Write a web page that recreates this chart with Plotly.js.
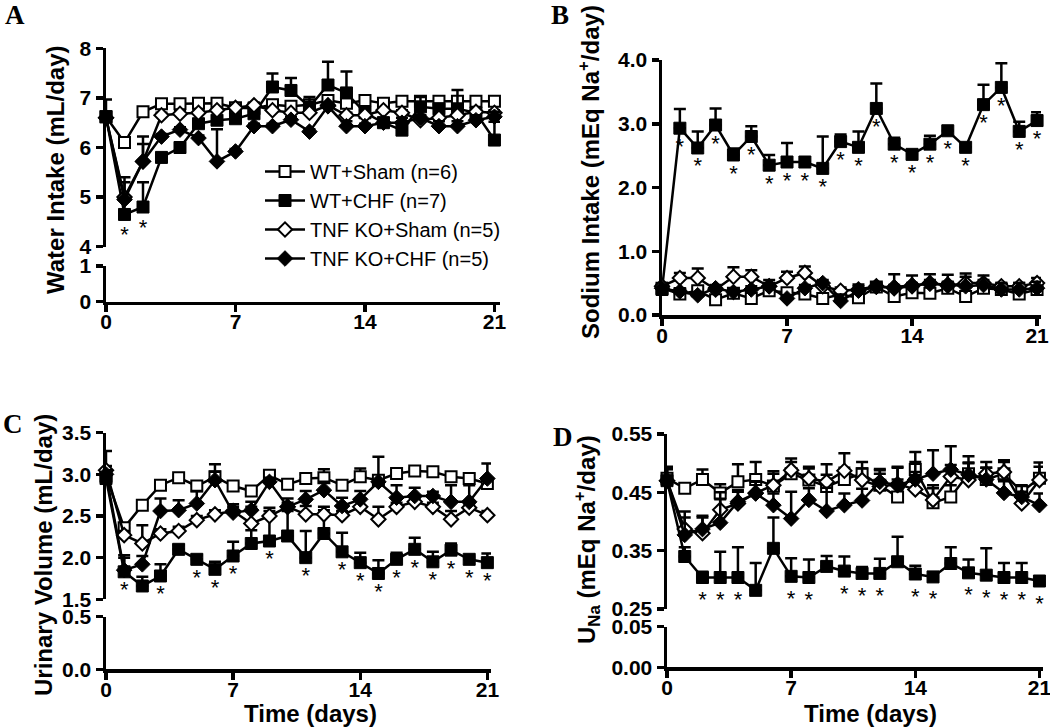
<!DOCTYPE html>
<html><head><meta charset="utf-8">
<script src="https://cdn.plot.ly/plotly-3.0.1.min.js"></script>
<style>html,body{margin:0;padding:0;background:#fff}#chart{width:1050px;height:728px}</style>
</head><body><div id="chart"></div>
<script>
// ---------- DATA ----------
const days = [0,1,2,3,4,5,6,7,8,9,10,11,12,13,14,15,16,17,18,19,20,21];
const xTicks = [0,7,14,21];
const seriesNames = ['WT+Sham (n=6)','WT+CHF (n=7)','TNF KO+Sham (n=5)','TNF KO+CHF (n=5)'];

// Panel A: Water intake (mL/day)
const A_wtSham   = [6.62,6.10,6.72,6.88,6.88,6.89,6.89,6.80,6.79,6.86,6.83,6.86,6.95,6.89,6.95,6.89,6.93,6.93,6.93,6.93,6.93,6.93];
const A_wtSham_e = [0.35,0.08,0.03,0.05,0.05,0.05,0.05,0.05,0.03,0.10,0.05,0.05,0.05,0.05,0.05,0.03,0.05,0.10,0.05,0.05,0.05,0.05];
const A_wtChf    = [6.62,4.65,4.80,5.80,6.00,6.48,6.55,6.58,6.68,7.22,7.15,6.82,7.26,7.10,6.70,6.50,6.35,6.82,6.78,6.78,6.70,6.15];
const A_wtChf_e  = [0.10,0.30,0.50,0.05,0.05,0.05,0.05,0.05,0.05,0.27,0.25,0.20,0.47,0.43,0.10,0.10,0.05,0.20,0.10,0.38,0.10,0.37];
const A_koSham   = [6.60,5.00,5.72,6.65,6.68,6.70,6.75,6.80,6.85,6.75,6.70,6.70,6.85,6.65,6.65,6.75,6.70,6.55,6.60,6.65,6.72,6.70];
const A_koSham_e = [0.10,0.30,0.50,0.05,0.05,0.05,0.05,0.05,0.05,0.05,0.05,0.05,0.05,0.05,0.05,0.05,0.05,0.05,0.05,0.05,0.05,0.05];
const A_koChf    = [6.60,4.95,5.72,6.22,6.36,6.19,5.72,5.92,6.43,6.43,6.56,6.32,6.83,6.43,6.43,6.50,6.50,6.60,6.43,6.43,6.55,6.62];
const A_koChf_e  = [0.10,0.45,0.35,0.05,0.05,0.05,0.65,0.05,0.05,0.05,0.05,0.05,0.05,0.10,0.05,0.05,0.10,0.05,0.10,0.10,0.10,0.10];
const A_sig = [1,2];

// Panel B: Sodium intake (mEq Na+/day)
const B_wtSham   = [0.42,0.33,0.38,0.24,0.34,0.26,0.38,0.35,0.33,0.26,0.32,0.27,0.44,0.29,0.35,0.34,0.42,0.29,0.42,0.40,0.33,0.40];
const B_wtSham_e = [0.05,0.05,0.05,0.05,0.05,0.05,0.05,0.05,0.05,0.05,0.05,0.05,0.05,0.05,0.10,0.05,0.10,0.05,0.05,0.05,0.05,0.05];
const B_wtChf    = [0.40,2.93,2.62,2.98,2.51,2.80,2.35,2.40,2.40,2.30,2.72,2.63,3.24,2.68,2.52,2.68,2.89,2.63,3.30,3.57,2.88,3.05];
const B_wtChf_e  = [0.05,0.30,0.26,0.26,0.10,0.16,0.16,0.30,0.00,0.50,0.11,0.25,0.39,0.10,0.00,0.13,0.00,0.00,0.31,0.38,0.15,0.13];
const B_koSham   = [0.45,0.58,0.58,0.40,0.60,0.60,0.45,0.58,0.66,0.45,0.38,0.40,0.45,0.42,0.45,0.50,0.46,0.50,0.50,0.45,0.45,0.50];
const B_koSham_e = [0.05,0.08,0.15,0.05,0.15,0.10,0.05,0.10,0.10,0.05,0.05,0.05,0.05,0.05,0.05,0.05,0.05,0.15,0.05,0.05,0.05,0.08];
const B_koChf    = [0.42,0.37,0.31,0.42,0.36,0.40,0.45,0.26,0.42,0.50,0.22,0.38,0.44,0.44,0.47,0.49,0.48,0.45,0.47,0.40,0.40,0.42];
const B_koChf_e  = [0.05,0.05,0.05,0.05,0.05,0.05,0.10,0.05,0.05,0.05,0.10,0.10,0.05,0.20,0.15,0.15,0.15,0.15,0.15,0.10,0.10,0.10];
const B_sig = [1,2,3,4,5,6,7,8,9,10,11,12,13,14,15,16,17,18,19,20,21];

// Panel C: Urinary volume (mL/day)
const C_wtSham   = [2.98,2.36,2.63,2.87,2.96,2.86,2.97,2.86,2.80,2.99,2.88,2.95,2.96,2.87,2.97,2.93,3.01,3.04,3.03,2.97,2.95,2.89];
const C_wtSham_e = [0.30,0.05,0.03,0.03,0.03,0.03,0.15,0.03,0.03,0.05,0.03,0.05,0.10,0.03,0.10,0.05,0.05,0.03,0.05,0.05,0.05,0.05];
const C_wtChf    = [2.95,1.83,1.66,1.78,2.10,1.98,1.86,2.02,2.17,2.20,2.26,2.00,2.29,2.07,1.94,1.81,1.98,2.10,1.95,2.09,1.98,1.94];
const C_wtChf_e  = [0.05,0.20,0.11,0.14,0.05,0.05,0.09,0.17,0.16,0.36,0.30,0.32,0.32,0.23,0.12,0.16,0.08,0.14,0.12,0.08,0.03,0.11];
const C_koSham   = [3.05,2.27,2.17,2.29,2.32,2.45,2.52,2.56,2.41,2.50,2.61,2.52,2.52,2.51,2.61,2.46,2.61,2.67,2.61,2.46,2.60,2.51];
const C_koSham_e = [0.05,0.05,0.22,0.05,0.05,0.05,0.05,0.05,0.20,0.10,0.05,0.10,0.05,0.05,0.10,0.15,0.05,0.05,0.05,0.10,0.05,0.05];
const C_koChf    = [3.00,1.85,1.92,2.56,2.57,2.65,2.93,2.54,2.57,2.91,2.61,2.70,2.81,2.62,2.70,2.91,2.72,2.74,2.74,2.67,2.67,2.95];
const C_koChf_e  = [0.05,0.15,0.10,0.15,0.12,0.15,0.10,0.10,0.10,0.05,0.10,0.10,0.10,0.10,0.10,0.30,0.15,0.10,0.05,0.20,0.20,0.18];
const C_sig = [1,2,3,5,6,7,9,11,13,14,15,16,17,18,19,20,21];

// Panel D: U_Na (mEq Na+/day)
const D_wtSham   = [0.474,0.457,0.472,0.449,0.468,0.472,0.461,0.482,0.471,0.460,0.472,0.482,0.462,0.442,0.489,0.432,0.442,0.482,0.472,0.482,0.451,0.474];
const D_wtSham_e = [0.020,0.005,0.017,0.015,0.030,0.030,0.025,0.020,0.020,0.020,0.020,0.020,0.020,0.030,0.030,0.030,0.020,0.030,0.020,0.020,0.010,0.020];
const D_wtChf    = [0.470,0.340,0.304,0.304,0.304,0.282,0.354,0.306,0.304,0.323,0.315,0.311,0.311,0.331,0.310,0.305,0.328,0.312,0.308,0.304,0.304,0.298];
const D_wtChf_e  = [0.020,0.016,0.010,0.044,0.052,0.047,0.053,0.031,0.031,0.018,0.025,0.011,0.025,0.043,0.014,0.000,0.028,0.023,0.046,0.025,0.025,0.000];
const D_koSham   = [0.470,0.387,0.380,0.420,0.431,0.449,0.462,0.488,0.474,0.468,0.487,0.471,0.460,0.464,0.455,0.437,0.477,0.471,0.482,0.485,0.431,0.471];
const D_koSham_e = [0.020,0.020,0.030,0.030,0.020,0.020,0.020,0.020,0.020,0.030,0.030,0.020,0.030,0.030,0.030,0.020,0.020,0.030,0.020,0.020,0.020,0.030];
const D_koChf    = [0.470,0.377,0.387,0.398,0.434,0.448,0.428,0.405,0.437,0.418,0.428,0.436,0.468,0.462,0.472,0.482,0.489,0.480,0.472,0.449,0.442,0.428];
const D_koChf_e  = [0.020,0.040,0.020,0.040,0.020,0.020,0.020,0.046,0.020,0.040,0.020,0.020,0.020,0.030,0.030,0.040,0.040,0.020,0.020,0.020,0.020,0.020];
const D_sig = [2,3,4,5,7,8,10,11,12,14,15,17,18,19,20,21];

// ---------- STYLE / LAYOUT ----------
const W = 1050, H = 728;
const fx = p => p / W;
const fy = p => 1 - p / H;
const SANS = 'Liberation Sans, Arial, sans-serif';
const SERIF = 'Liberation Serif, Times New Roman, serif';

const styles = [
  {symbol:'square',  size:11, color:'white', line:{color:'black', width:2}},
  {symbol:'square',  size:12, color:'black', line:{color:'black', width:1}},
  {symbol:'diamond', size:11, color:'white', line:{color:'black', width:2}},
  {symbol:'diamond', size:12, color:'black', line:{color:'black', width:1}}
];

const traces = [];
// empty placeholder traces so the lower (broken) axis segments get their own subplots
[['x','y'],['x3','y4'],['x4','y6']].forEach(p => traces.push({
  type:'scatter', mode:'markers', x:[null], y:[null], xaxis:p[0], yaxis:p[1],
  showlegend:false, hoverinfo:'skip'
}));

function addPanel(xa, ya, sets, sig, starPx, pxPerUnit, legend) {
  sets.forEach((s, i) => {
    traces.push({
      type:'scatter', mode:'lines+markers', x:days, y:s[0],
      xaxis:xa, yaxis:ya, name:seriesNames[i], showlegend:legend, legendgroup:'g'+i,
      line:{color:'black', width:2.5}, marker:styles[i], cliponaxis:false,
      error_y:{type:'data', symmetric:false, array:s[1], arrayminus:s[1].map(()=>0),
               color:'black', thickness:2.5, width:6},
      hoverinfo:'skip'
    });
  });
  const chf = sets[1][0];
  traces.push({
    type:'scatter', mode:'text', x:sig, y:sig.map(d => chf[d] - starPx / pxPerUnit),
    text:sig.map(()=>'*'), textposition:'middle center',
    textfont:{family:SANS, size:22, color:'black'},
    xaxis:xa, yaxis:ya, showlegend:false, cliponaxis:false, hoverinfo:'skip'
  });
}

addPanel('x','y2',[[A_wtSham,A_wtSham_e],[A_wtChf,A_wtChf_e],[A_koSham,A_koSham_e],[A_koChf,A_koChf_e]], A_sig, 22, 49.6, true);
addPanel('x2','y3',[[B_wtSham,B_wtSham_e],[B_wtChf,B_wtChf_e],[B_koSham,B_koSham_e],[B_koChf,B_koChf_e]], B_sig, 20, 63.7, false);
addPanel('x3','y5',[[C_wtSham,C_wtSham_e],[C_wtChf,C_wtChf_e],[C_koSham,C_koSham_e],[C_koChf,C_koChf_e]], C_sig, 20, 83.3, false);
addPanel('x4','y7',[[D_wtSham,D_wtSham_e],[D_wtChf,D_wtChf_e],[D_koSham,D_koSham_e],[D_koChf,D_koChf_e]], D_sig, 24, 583, false);

const ax = (o) => Object.assign({
  showline:true, linecolor:'black', linewidth:3.5, ticks:'outside', ticklen:7, tickwidth:3.5,
  tickcolor:'black', showgrid:false, zeroline:false, fixedrange:true, ticklabeloverflow:'allow',
  tickfont:{family:SANS, size:21, color:'black', weight:'bold'}
}, o);
const xax = (o) => ax(Object.assign({tickvals:xTicks, ticklabelstandoff:-8}, o));

const titleFont = {family:SANS, size:24, color:'black', weight:'bold'};
const letterFont = {family:SERIF, size:27, color:'black', weight:'bold'};
const ann = (text, x, y, font, angle) => ({
  text, x:fx(x), y:fy(y), xref:'paper', yref:'paper', showarrow:false,
  xanchor:'center', yanchor:'middle', textangle:angle||0, font
});

const layout = {
  width:W, height:H, margin:{l:0,r:0,t:0,b:0},
  paper_bgcolor:'white', plot_bgcolor:'rgba(0,0,0,0)',
  showlegend:true,
  legend:{x:fx(260), y:fy(152), xanchor:'left', yanchor:'top', bgcolor:'rgba(0,0,0,0)',
          font:{family:SANS, size:20, color:'black'}, tracegroupgap:0, itemwidth:40, itemclick:false},
  // Panel A
  xaxis: xax({domain:[fx(106), fx(500)], range:[0,21.3], anchor:'y'}),
  yaxis: ax({domain:[fy(301.7), fy(266)], range:[0,1], tickvals:[0,1], anchor:'x'}),
  yaxis2: ax({domain:[fy(246.7), fy(48.3)], range:[4,8], tickvals:[4,5,6,7,8], anchor:'x'}),
  // Panel B
  xaxis2: xax({domain:[fx(662), fx(1041)], range:[0,21.22], anchor:'y3'}),
  yaxis3: ax({domain:[fy(315), fy(60)], range:[0,4], tickvals:[0,1,2,3,4], tickformat:'.1f', anchor:'x2'}),
  // Panel C
  xaxis3: xax({domain:[fx(106), fx(491)], range:[0,21.2], anchor:'y4'}),
  yaxis4: ax({domain:[fy(669.3), fy(616.7)], range:[0,0.5], tickvals:[0,0.5], tickformat:'.1f', anchor:'x3'}),
  yaxis5: ax({domain:[fy(599.3), fy(432.7)], range:[1.5,3.5], tickvals:[1.5,2,2.5,3,3.5], tickformat:'.1f', anchor:'x3'}),
  // Panel D
  xaxis4: xax({domain:[fx(667), fx(1043)], range:[0,21.2], anchor:'y6'}),
  yaxis6: ax({domain:[fy(667.3), fy(626.7)], range:[0,0.05], tickvals:[0,0.05], tickformat:'.2f', anchor:'x4'}),
  yaxis7: ax({domain:[fy(609), fy(434)], range:[0.25,0.55], tickvals:[0.25,0.35,0.45,0.55], tickformat:'.2f', anchor:'x4'}),
  annotations:[
    ann('A', 15, 15, letterFont), ann('B', 560, 15, letterFont),
    ann('C', 13, 424, letterFont), ann('D', 563, 437, letterFont),
    ann('Water Intake (mL/day)', 55, 170, titleFont, -90),
    ann('Sodium Intake (mEq Na<sup>+</sup>/day)', 589, 172, titleFont, -90),
    ann('Urinary Volume (mL/day)', 43, 555, titleFont, -90),
    ann('U<sub>Na</sub> (mEq Na<sup>+</sup>/day)', 587, 540, titleFont, -90),
    ann('Time (days)', 310, 713, titleFont), ann('Time (days)', 870, 713, titleFont)
  ]
};

Plotly.newPlot('chart', traces, layout, {displayModeBar:false, staticPlot:true});
</script></body></html>
